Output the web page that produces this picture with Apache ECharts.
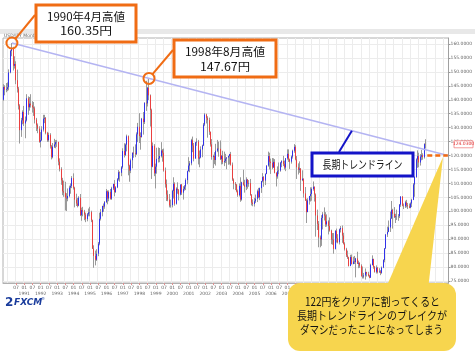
<!DOCTYPE html>
<html><head><meta charset="utf-8">
<script src="https://cdn.jsdelivr.net/npm/echarts@6/dist/echarts.min.js"></script>
<style>html,body{margin:0;padding:0;background:#fff}#c{width:475px;height:360px}</style>
</head><body><div id="c"></div>
<script>
// Monthly USD/JPY candles [open, high, low, close]
const d1989 = [[140.0,145.6,139.6,144.6],[144.6,145.2,141.6,143.6],[143.6,146.0,142.7,143.8]];
const d1990 = [[143.8,146.2,143.1,144.5],[144.5,150.9,143.4,149.8],[149.8,157.9,149.5,157.5],[157.5,160.35,155.6,158.4],[158.4,159.0,150.5,152.2],[152.2,155.6,151.2,152.8],[152.8,153.8,145.6,147.0],[147.0,150.8,142.6,144.0],[144.0,144.6,136.5,137.9],[137.9,138.4,124.3,129.1],[129.1,133.5,126.7,132.6],[132.6,136.2,131.2,135.6]];
const d1991 = [[135.6,137.8,130.6,131.5],[131.5,134.0,126.2,132.6],[132.6,142.0,132.2,140.5],[140.5,141.2,134.6,137.3],[137.3,141.0,136.1,138.6],[138.6,142.0,137.2,138.0],[138.0,139.5,135.4,137.3],[137.3,139.2,134.2,136.9],[136.9,137.6,131.5,132.9],[132.9,133.5,128.8,130.9],[130.9,131.5,128.0,129.6],[129.6,130.5,124.6,124.9]];
const d1992 = [[124.9,128.4,122.9,125.5],[125.5,130.5,125.2,129.3],[129.3,134.6,128.6,133.2],[133.2,134.6,131.6,133.5],[133.5,133.8,127.6,128.1],[128.1,128.5,124.9,125.5],[125.5,128.2,124.9,127.4],[127.4,128.0,122.5,123.3],[123.3,123.8,118.6,119.4],[119.4,124.5,119.0,123.2],[123.2,126.0,122.7,124.0],[124.0,125.5,122.6,124.8]];
const d1993 = [[124.8,125.6,123.1,124.9],[124.9,124.9,116.5,117.8],[117.8,119.0,114.3,115.1],[115.1,115.8,109.5,111.1],[111.1,112.0,105.8,107.2],[107.2,111.0,105.2,106.7],[106.7,110.6,100.3,104.9],[104.9,106.5,100.1,104.6],[104.6,108.2,103.6,105.5],[105.5,109.2,105.0,108.5],[108.5,110.0,106.3,109.1],[109.1,112.6,108.3,111.9]];
const d1994 = [[111.9,113.6,107.8,108.4],[108.4,108.8,101.4,104.2],[104.2,106.3,101.9,102.8],[102.8,104.8,101.4,102.0],[102.0,105.4,101.8,104.9],[104.9,106.2,98.3,98.6],[98.6,101.3,96.6,100.4],[100.4,101.6,98.2,99.9],[99.9,100.5,96.8,98.8],[98.8,99.5,96.1,97.2],[97.2,99.4,96.4,98.9],[98.9,101.0,98.2,99.6]];
const d1995 = [[99.6,101.6,98.2,99.7],[99.7,100.2,96.1,96.8],[96.8,97.0,86.5,86.6],[86.6,87.8,79.75,84.0],[84.0,85.9,80.6,82.6],[82.6,86.4,82.2,84.8],[84.8,89.0,83.9,88.4],[88.4,99.5,87.8,97.3],[97.3,100.8,96.7,99.7],[99.7,102.0,98.2,101.9],[101.9,102.8,99.8,101.7],[101.7,103.7,100.9,103.3]];
const d1996 = [[103.3,108.0,103.0,107.2],[107.2,107.5,102.5,104.6],[104.6,107.5,103.6,106.9],[106.9,108.0,104.2,104.5],[104.5,108.8,104.1,108.2],[108.2,109.9,107.6,109.8],[109.8,111.2,105.4,106.9],[106.9,109.0,106.6,108.6],[108.6,111.9,108.3,111.5],[111.5,114.8,111.0,114.0],[114.0,114.3,110.6,113.8],[113.8,116.2,112.6,115.8]];
const d1997 = [[115.8,122.6,115.3,121.6],[121.6,124.4,119.3,120.2],[120.2,124.3,119.8,123.9],[123.9,127.5,121.5,126.9],[126.9,127.2,112.9,116.4],[116.4,116.7,110.6,114.6],[114.6,118.9,113.7,118.3],[118.3,121.1,115.4,121.0],[121.0,123.2,119.2,120.8],[120.8,124.0,119.4,120.5],[120.5,128.3,120.2,127.6],[127.6,131.7,124.8,130.3]];
const d1998 = [[130.3,135.2,124.5,127.0],[127.0,128.3,122.1,126.6],[126.6,133.5,126.5,133.2],[133.2,135.6,127.5,132.0],[132.0,139.1,131.3,138.9],[138.9,146.8,136.0,138.7],[138.7,144.6,137.6,144.3],[144.3,147.67,139.9,141.6],[141.6,141.9,130.4,136.3],[136.3,136.8,111.6,116.0],[116.0,124.7,115.8,123.5],[123.5,124.1,112.6,113.6]];
const d1999 = [[113.6,117.1,108.2,116.0],[116.0,122.8,113.5,118.8],[118.8,122.9,117.5,119.0],[119.0,122.7,117.6,119.8],[119.8,124.8,119.3,121.8],[121.8,122.3,117.8,121.0],[121.0,122.5,114.2,114.6],[114.6,115.7,108.5,109.7],[109.7,111.4,103.7,106.0],[106.0,107.5,103.6,104.2],[104.2,106.2,101.4,102.1],[102.1,104.2,101.3,102.2]];
const d2000 = [[102.2,107.7,101.4,107.3],[107.3,112.2,104.6,109.9],[109.9,110.4,102.0,102.7],[102.7,108.6,102.4,108.1],[108.1,110.4,106.3,107.6],[107.6,108.0,103.9,106.0],[106.0,109.6,105.7,109.6],[109.6,109.8,105.9,106.7],[106.7,109.0,104.2,108.0],[108.0,109.4,107.4,108.9],[108.9,111.8,107.6,111.2],[111.2,114.6,109.7,114.4]];
const d2001 = [[114.4,119.4,114.3,116.4],[116.4,118.0,114.0,117.2],[117.2,126.0,116.5,125.5],[125.5,126.8,121.2,123.6],[123.6,124.5,117.9,118.9],[118.9,124.9,118.9,124.7],[124.7,126.2,123.5,125.0],[125.0,125.6,116.8,118.9],[118.9,121.8,115.8,119.3],[119.3,123.3,119.0,122.2],[122.2,123.9,119.4,123.6],[123.6,131.7,123.4,131.1]];
const d2002 = [[131.1,135.2,130.6,134.7],[134.7,135.0,131.5,133.5],[133.5,134.1,126.4,132.7],[132.7,133.6,127.4,128.5],[128.5,128.6,123.2,124.0],[124.0,125.9,118.5,119.5],[119.5,120.3,115.5,119.8],[119.8,121.2,116.9,118.4],[118.4,124.2,116.4,121.7],[121.7,125.6,121.2,122.5],[122.5,125.0,119.6,122.4],[122.4,125.4,118.4,118.7]];
const d2003 = [[118.7,120.2,116.8,119.9],[119.9,121.7,116.9,117.6],[117.6,121.4,116.2,118.0],[118.0,120.6,117.3,118.9],[118.9,119.4,115.1,119.3],[119.3,120.0,116.7,119.8],[119.8,120.6,116.8,120.5],[120.5,121.3,116.4,116.7],[116.7,117.5,110.9,111.4],[111.4,111.8,107.9,109.9],[109.9,110.5,107.6,109.5],[109.5,109.8,106.8,107.2]];
const d2004 = [[107.2,107.8,105.2,105.8],[105.8,110.0,105.3,109.1],[109.1,112.2,103.4,104.2],[104.2,110.6,103.8,110.4],[110.4,114.9,109.2,109.5],[109.5,111.3,106.7,108.8],[108.8,112.2,107.6,111.4],[111.4,111.6,108.1,109.9],[109.9,111.2,108.8,110.1],[110.1,111.6,105.6,105.8],[105.8,106.2,102.1,103.1],[103.1,104.3,101.8,102.6]];
const d2005 = [[102.6,104.9,101.7,103.6],[103.6,106.0,103.0,104.5],[104.5,107.8,103.3,107.2],[107.2,108.4,104.7,105.0],[105.0,108.5,104.0,108.3],[108.3,110.9,106.6,110.8],[110.8,113.7,110.4,112.3],[112.3,112.6,108.8,111.0],[111.0,113.6,109.4,113.4],[113.4,116.5,113.3,116.4],[116.4,121.4,116.0,119.8],[119.8,121.0,115.0,117.8]];
const d2006 = [[117.8,118.9,113.4,117.3],[117.3,119.1,115.1,115.7],[115.7,119.0,115.6,117.7],[117.7,118.7,113.6,113.8],[113.8,114.0,108.9,112.5],[112.5,116.1,111.7,114.4],[114.4,117.5,113.3,114.6],[114.6,117.7,114.2,117.4],[117.4,118.3,115.8,118.0],[118.0,119.9,116.2,116.9],[116.9,118.2,115.0,115.7],[115.7,119.1,114.4,119.0]];
const d2007 = [[119.0,122.2,118.5,120.6],[120.6,122.2,117.7,118.6],[118.6,118.9,115.2,117.8],[117.8,120.0,117.1,119.6],[119.6,122.1,118.9,121.7],[121.7,124.1,121.0,123.1],[123.1,123.7,118.3,118.6],[118.6,119.8,111.6,115.8],[115.8,117.2,113.2,114.9],[114.9,117.9,113.8,115.3],[115.3,115.5,107.3,111.2],[111.2,114.7,110.8,111.7]];
const d2008 = [[111.7,111.8,104.9,106.4],[106.4,108.7,103.7,103.9],[103.9,104.5,95.8,99.7],[99.7,104.7,99.7,103.9],[103.9,105.5,102.4,105.5],[105.5,108.6,103.5,106.2],[106.2,108.6,103.8,108.0],[108.0,110.7,107.4,108.8],[108.8,108.9,103.5,106.0],[106.0,106.4,90.9,98.5],[98.5,100.6,93.3,95.5],[95.5,96.5,87.1,90.6]];
const d2009 = [[90.6,91.3,87.1,89.9],[89.9,98.6,87.6,97.6],[97.6,99.7,93.5,98.9],[98.9,101.4,96.7,98.5],[98.5,99.7,94.4,95.3],[95.3,98.9,94.5,96.4],[96.4,96.8,91.7,94.7],[94.7,97.8,92.7,93.1],[93.1,93.4,88.2,89.8],[89.8,92.2,88.0,89.9],[89.9,92.2,84.8,86.5],[86.5,93.2,86.3,93.0]];
const d2010 = [[93.0,93.8,88.8,90.3],[90.3,91.8,88.5,88.9],[88.9,93.8,88.1,93.5],[93.5,94.7,92.4,94.0],[94.0,94.9,88.7,91.3],[91.3,92.3,88.1,88.4],[88.4,88.9,85.9,86.4],[86.4,86.9,83.6,84.2],[84.2,85.9,82.9,83.5],[83.5,83.7,80.2,80.4],[80.4,84.4,80.3,83.6],[83.6,84.5,80.9,81.1]];
const d2011 = [[81.1,83.7,81.0,82.0],[82.0,84.0,81.1,81.8],[81.8,83.3,76.3,83.1],[83.1,85.5,81.1,81.2],[81.2,82.3,79.6,81.5],[81.5,81.7,79.7,80.5],[80.5,81.0,76.6,76.7],[76.7,80.2,75.9,76.6],[76.6,77.9,75.9,77.0],[77.0,79.5,75.5,78.2],[78.2,78.3,76.6,77.6],[77.6,78.3,76.6,76.9]];
const d2012 = [[76.9,77.2,76.0,76.2],[76.2,81.2,76.1,80.7],[80.7,84.2,80.6,82.9],[82.9,83.0,79.4,80.0],[80.0,80.4,78.0,78.3],[78.3,80.6,77.7,79.8],[79.8,80.0,77.7,78.1],[78.1,79.6,78.0,78.4],[78.4,78.9,77.1,77.9],[77.9,80.2,77.6,79.8],[79.8,82.8,79.6,82.5],[82.5,86.8,81.7,86.7]];
const d2013 = [[86.7,91.8,86.5,91.7],[91.7,94.5,90.8,92.6],[92.6,96.7,92.5,94.2],[94.2,99.9,92.6,97.4],[97.4,103.7,97.3,100.5],[100.5,100.9,93.8,99.1],[99.1,101.5,97.6,97.9],[97.9,99.1,95.8,98.2],[98.2,100.6,96.9,98.2],[98.2,99.0,96.6,98.3],[98.3,102.6,97.6,102.4],[102.4,105.4,101.6,105.3]];
const d2014 = [[105.3,105.4,101.8,102.0],[102.0,102.8,100.8,101.8],[101.8,103.8,101.2,103.2],[103.2,104.1,101.4,102.2],[102.2,103.0,100.8,101.8],[101.8,102.8,101.1,101.3],[101.3,103.2,101.1,102.8],[102.8,104.5,101.5,104.1],[104.1,110.1,104.0,109.6],[109.6,112.5,105.2,112.3],[112.3,118.98,112.0,118.6],[118.6,121.85,115.6,119.8]];
const d2015 = [[119.8,121.0,115.8,117.5],[117.5,120.5,116.4,119.6],[119.6,122.0,118.3,120.1],[120.1,120.8,118.5,119.4],[119.4,124.4,118.9,124.1],[124.1,125.86,122.5,124.03]];

const startYear = 1989, startMonth = 10, slotCount = 325;   // axis runs Oct 1989 .. Oct 2016
const yTicks = [75,80,85,90,95,100,105,110,115,120,125,130,135,140,145,150,155,160];
const highAnchors = [['1990-04', 160.35], ['1998-08', 147.67]];
const breakLevel = 120;          // orange dashed level at right edge
const breakFrom = '2015-07';

const ohlc = [].concat(d1989,d1990,d1991,d1992,d1993,d1994,d1995,d1996,d1997,d1998,d1999,d2000,d2001,d2002,d2003,d2004,d2005,d2006,d2007,d2008,d2009,d2010,d2011,d2012,d2013,d2014,d2015);
const cats = [];
for (let i = 0; i < slotCount; i++) {
  const m = startMonth - 1 + i;
  const y = startYear + Math.floor(m / 12), mm = m % 12 + 1;
  cats.push(y + '-' + (mm < 10 ? '0' + mm : mm));
}
const wickData = ohlc.map(r => [r[0], r[3], r[2], r[1]]);
const bodyData = ohlc.map(r => [r[0], r[3], Math.min(r[0], r[3]), Math.max(r[0], r[3])]);
const idxA = cats.indexOf(highAnchors[0][0]), idxB = cats.indexOf(highAnchors[1][0]);
const slope = (highAnchors[1][1] - highAnchors[0][1]) / (idxB - idxA);
const lastCat = cats[cats.length - 1];
const trendEnd = highAnchors[0][1] + slope * (cats.length - 1 - idxA);
const lastClose = ohlc[ohlc.length - 1][3];

const isHalfYear = (i) => { const s = cats[i]; return s.endsWith('-01') || s.endsWith('-07'); };

const chart = echarts.init(document.getElementById('c'), null, {renderer: 'canvas'});
const FONT = '"Noto Sans CJK JP", "Noto Sans", sans-serif';
chart.setOption({
  animation: false,
  backgroundColor: '#fff',
  grid: {left: 3, right: 23, top: 38, bottom: 77, show: true, borderColor: '#b0b0b0', borderWidth: 1, backgroundColor: '#fff'},
  xAxis: {
    type: 'category', data: cats, boundaryGap: true,
    axisLine: {show: true, lineStyle: {color: '#b0b0b0'}},
    axisTick: {show: true, interval: isHalfYear, alignWithLabel: true, length: 2, lineStyle: {color: '#e09090'}},
    splitLine: {show: true, interval: isHalfYear, lineStyle: {color: '#ececec', width: 1}},
    axisLabel: {
      interval: isHalfYear, fontSize: 4.5, color: '#666', margin: 2, lineHeight: 6, fontFamily: 'DejaVu Sans',
      formatter: (v) => {
        const y = v.slice(0, 4), m = v.slice(5);
        if (m === '01') return '01\n' + (v === '1990-01' ? '1/01/90' : y);
        return m;
      }
    }
  },
  yAxis: {
    type: 'value', position: 'right', min: 74.283, max: 162.152, scale: true,
    axisLine: {show: true, lineStyle: {color: '#a0a0a0'}},
    axisTick: {show: true, customValues: yTicks, length: 2, lineStyle: {color: '#999'}},
    axisLabel: {customValues: yTicks, fontSize: 4.5, color: '#666', margin: 2, fontFamily: 'DejaVu Sans', formatter: (v) => v.toFixed(4)},
    splitLine: {show: true, lineStyle: {color: '#ececec', width: 1}}
  },
  series: [
    {type: 'candlestick', data: wickData, barWidth: 0.5, z: 2,
     itemStyle: {color: '#9a9a9a', color0: '#9a9a9a', borderColor: '#9a9a9a', borderColor0: '#9a9a9a', borderWidth: 1}},
    {type: 'candlestick', data: bodyData, barWidth: 1, z: 3,
     itemStyle: {color: '#1818ff', color0: '#ff2a2a', borderColor: '#1818ff', borderColor0: '#ff2a2a', borderWidth: 0.8}},
    {type: 'line', data: [[highAnchors[0][0], highAnchors[0][1]], [lastCat, trendEnd]], symbol: 'none', z: 4,
     lineStyle: {color: '#b4b4f2', width: 1.6},
     markLine: {symbol: 'none', silent: true, label: {show: false},
       lineStyle: {color: '#f26a10', type: [5, 3], width: 2.5},
       data: [[{coord: [breakFrom, breakLevel]}, {coord: [lastCat, breakLevel]}]]}}
  ]
});

const P = (c, v) => chart.convertToPixel({xAxisIndex: 0, yAxisIndex: 0}, [c, v]);
const pA = P(highAnchors[0][0], highAnchors[0][1]);
const pB = P(highAnchors[1][0], highAnchors[1][1]);
const ORANGE = '#f06c14';
const R = 5.5;
function edge(c, from) {
  const dx = from[0] - c[0], dy = from[1] - c[1], d = Math.hypot(dx, dy);
  return [c[0] + dx / d * R, c[1] + dy / d * R];
}
const eA = edge(pA, [35, 15]);
const eB = edge(pB, [173, 50]);
const tlX = 352;
const tlIdx = Math.round(chart.convertFromPixel({xAxisIndex: 0}, tlX));
const pT = P(cats[tlIdx], highAnchors[0][1] + slope * (tlIdx - idxA));
const pLast = P(cats[ohlc.length - 1], lastClose);

const mctx = document.createElement('canvas').getContext('2d');
// centred text, squeezed/stretched to the width it takes in the reference
function txt(t, x, y, size, targetW) {
  mctx.font = size + 'px ' + FONT;
  const w = mctx.measureText(t).width;
  const s = targetW ? targetW / w : 1;
  return {type: 'text', z: 110, x: x, y: y, scaleX: s,
    style: {text: t, x: 0, y: 0, fontSize: size, fontFamily: FONT, fill: '#111', align: 'center', verticalAlign: 'middle'}};
}

chart.setOption({
  graphic: [
    {type: 'rect', z: 50, shape: {x: 0, y: 29, width: 475, height: 5}, style: {fill: '#e8e8e8'}},
    {type: 'text', z: 51, style: {text: 'USD/JPY Monthly', x: 4, y: 36, fontSize: 4.5, fontFamily: 'DejaVu Sans', fill: '#666', align: 'left', verticalAlign: 'middle'}},
    // price label
    {type: 'rect', z: 60, shape: {x: 454, y: pLast[1] - 3.5, width: 19, height: 7}, style: {fill: '#fff', stroke: '#f08080', lineWidth: 0.8}},
    {type: 'text', z: 61, style: {text: lastClose.toFixed(4), x: 463.5, y: pLast[1], fontSize: 4.5, fontFamily: 'DejaVu Sans', fill: '#e03030', align: 'center', verticalAlign: 'middle'}},
    // callout 1
    {type: 'line', z: 100, shape: {x1: 35, y1: 15, x2: eA[0], y2: eA[1]}, style: {stroke: ORANGE, lineWidth: 2}},
    {type: 'circle', z: 100, shape: {cx: pA[0], cy: pA[1], r: R}, style: {fill: 'none', stroke: ORANGE, lineWidth: 2}},
    {type: 'rect', z: 100, shape: {x: 36, y: 5, width: 100, height: 37}, style: {fill: '#fff', stroke: ORANGE, lineWidth: 3}},
    txt('1990年4月高値', 86, 16.5, 11.5, 78),
    txt('160.35円', 86, 31, 11.5, 52),
    // callout 2
    {type: 'line', z: 100, shape: {x1: 173, y1: 50, x2: eB[0], y2: eB[1]}, style: {stroke: ORANGE, lineWidth: 2}},
    {type: 'circle', z: 100, shape: {cx: pB[0], cy: pB[1], r: R}, style: {fill: 'none', stroke: ORANGE, lineWidth: 2}},
    {type: 'rect', z: 100, shape: {x: 174, y: 40, width: 102, height: 37}, style: {fill: '#fff', stroke: ORANGE, lineWidth: 3}},
    txt('1998年8月高値', 225, 52, 11.5, 80),
    txt('147.67円', 225, 66.5, 11.5, 50),
    // trend label
    {type: 'line', z: 100, shape: {x1: 339, y1: 152, x2: pT[0], y2: pT[1]}, style: {stroke: '#1414c8', lineWidth: 2}},
    {type: 'rect', z: 100, shape: {x: 312, y: 153, width: 101, height: 23}, style: {fill: '#fff', stroke: '#1414c8', lineWidth: 3}},
    txt('長期トレンドライン', 362.5, 165, 11.5, 80),
    // yellow bubble
    {type: 'polygon', z: 100, shape: {points: [[385, 290], [428, 290], [443, 157]]}, style: {fill: '#f7d54e'}},
    {type: 'rect', z: 100, shape: {x: 288, y: 283, width: 168, height: 68, r: 12}, style: {fill: '#f7d54e'}},
    txt('122円をクリアに割ってくると', 372.5, 302, 11.5, 135),
    txt('長期トレンドラインのブレイクが', 372, 315.5, 11.5, 150),
    txt('ダマシだったことになってしまう', 371.5, 329.5, 11.5, 143),
    // logo
    {type: 'text', z: 100, style: {text: '2', x: 5, y: 303, fontSize: 12, fontWeight: 'bold', fontFamily: 'DejaVu Sans', fill: '#1a3c9c', align: 'left', verticalAlign: 'middle'}},
    {type: 'text', z: 100, style: {text: 'FXCM', x: 14, y: 303, fontSize: 9, fontWeight: 'bold', fontStyle: 'italic', fontFamily: 'DejaVu Sans', fill: '#1a3c9c', align: 'left', verticalAlign: 'middle'}},
    {type: 'text', z: 100, style: {text: '®', x: 41, y: 299, fontSize: 4, fontFamily: 'DejaVu Sans', fill: '#1a3c9c', align: 'left', verticalAlign: 'middle'}}
  ]
});
</script></body></html>
